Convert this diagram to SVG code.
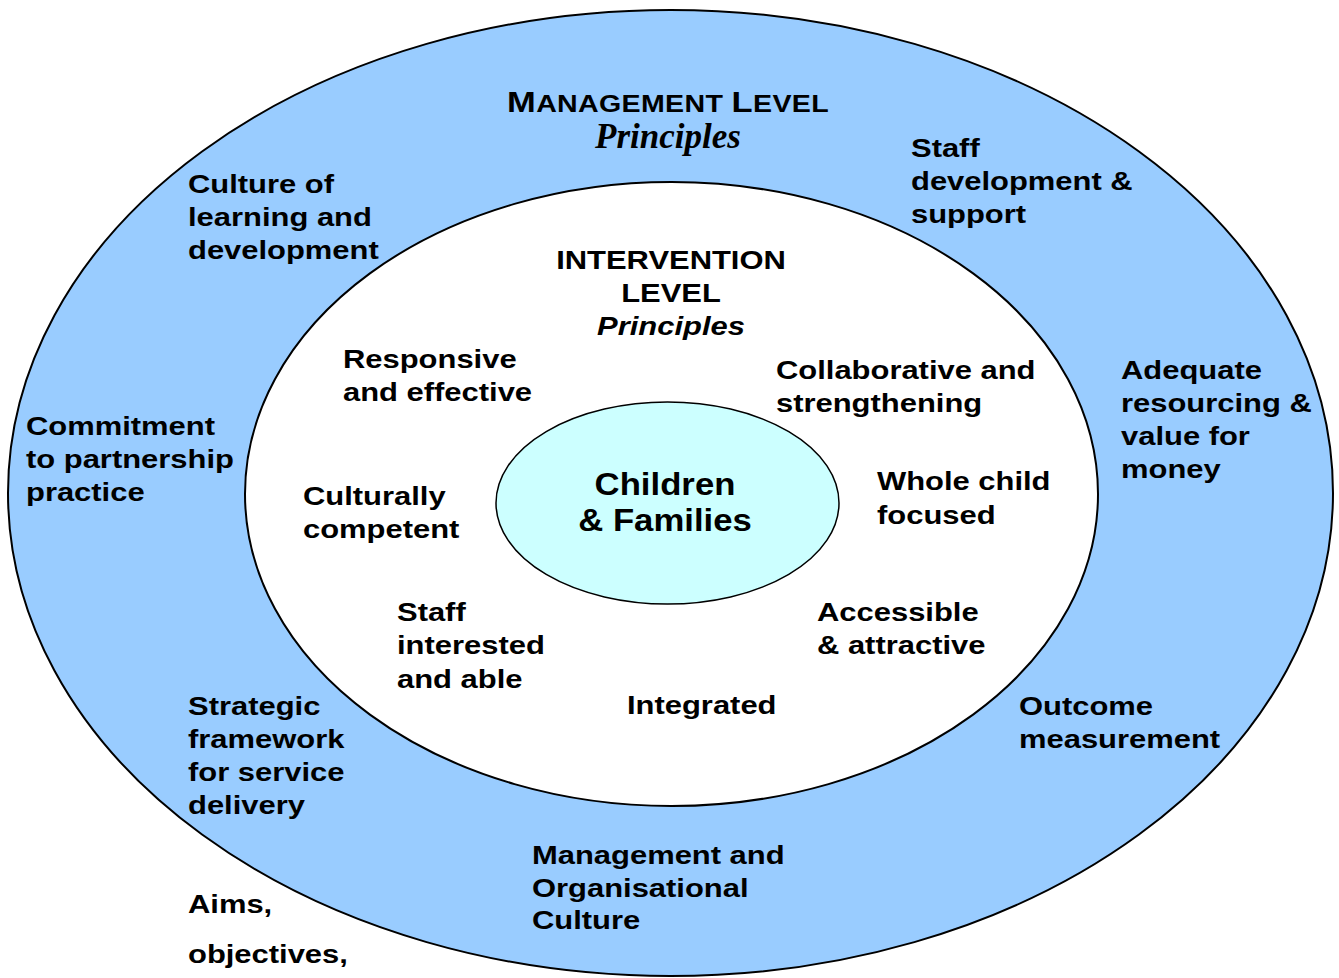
<svg xmlns="http://www.w3.org/2000/svg" width="1339" height="978" viewBox="0 0 1339 978">
<style>
.t{font-family:"Liberation Sans",Arial,sans-serif;font-weight:bold;font-size:26px;fill:#000}
.c{text-anchor:middle}
.pr{font-family:"Liberation Serif","Times New Roman",serif;font-weight:bold;font-style:italic;font-size:35px;fill:#000}
</style>
<rect width="1339" height="978" fill="#fff"/>
<g id="management-ring">
<ellipse cx="670.5" cy="493" rx="662.5" ry="483" fill="#99CCFF" stroke="#000" stroke-width="2"/>
</g>
<g id="intervention-ring">
<ellipse cx="671.5" cy="494" rx="426.5" ry="312" fill="#fff" stroke="#000" stroke-width="2"/>
</g>
<g id="centre">
<ellipse cx="667.5" cy="503" rx="171.5" ry="101" fill="#CCFFFF" stroke="#000" stroke-width="1.5"/>
<g transform="translate(665,-1) scale(1.12,1)">
<text class="t c" style="font-size:31px" x="0" y="496">Children</text>
<text class="t c" style="font-size:31px" x="0" y="532">&amp; Families</text>
</g>
</g>
<g id="management-title">
<g transform="translate(668,-1) scale(1.19,1)">
<text class="t c" x="0" y="113" style="letter-spacing:0.3px"><tspan font-size="29">M</tspan><tspan font-size="24">ANAGEMENT </tspan><tspan font-size="29">L</tspan><tspan font-size="24">EVEL</tspan></text>
</g>
<text class="pr c" x="668" y="148">Principles</text>
</g>
<g id="intervention-title" transform="translate(671,-1) scale(1.19,1)">
<text class="t c" x="0" y="270">INTERVENTION</text>
<text class="t c" x="0" y="303">LEVEL</text>
<text class="t c" x="0" y="336" font-style="italic">Principles</text>
</g>
<g id="culture-of-learning" transform="translate(188,-1) scale(1.19,1)"><text class="t" x="0" y="194">Culture of<tspan x="0" dy="33">learning and</tspan><tspan x="0" dy="33">development</tspan></text></g>
<g id="staff-development" transform="translate(911,-1) scale(1.19,1)"><text class="t" x="0" y="158">Staff<tspan x="0" dy="33">development &amp;</tspan><tspan x="0" dy="33">support</tspan></text></g>
<g id="commitment" transform="translate(26,-1) scale(1.19,1)"><text class="t" x="0" y="436">Commitment<tspan x="0" dy="33">to partnership</tspan><tspan x="0" dy="33">practice</tspan></text></g>
<g id="adequate-resourcing" transform="translate(1121,-1) scale(1.19,1)"><text class="t" x="0" y="380">Adequate<tspan x="0" dy="33">resourcing &amp;</tspan><tspan x="0" dy="33">value for</tspan><tspan x="0" dy="33">money</tspan></text></g>
<g id="strategic-framework" transform="translate(188,-1) scale(1.19,1)"><text class="t" x="0" y="716">Strategic<tspan x="0" dy="33">framework</tspan><tspan x="0" dy="33">for service</tspan><tspan x="0" dy="33">delivery</tspan></text></g>
<g id="outcome-measurement" transform="translate(1019,-1) scale(1.19,1)"><text class="t" x="0" y="716">Outcome<tspan x="0" dy="33">measurement</tspan></text></g>
<g id="management-culture" transform="translate(532,-1) scale(1.19,1)"><text class="t" x="0" y="865">Management and<tspan x="0" dy="33">Organisational</tspan><tspan x="0" dy="32">Culture</tspan></text></g>
<g id="aims" transform="translate(188,-1) scale(1.19,1)"><text class="t" x="0" y="914">Aims,<tspan x="0" dy="50">objectives,</tspan></text></g>
<g id="responsive" transform="translate(343,-1) scale(1.19,1)"><text class="t" x="0" y="369">Responsive<tspan x="0" dy="33">and effective</tspan></text></g>
<g id="collaborative" transform="translate(776,-1) scale(1.19,1)"><text class="t" x="0" y="380">Collaborative and<tspan x="0" dy="33">strengthening</tspan></text></g>
<g id="culturally-competent" transform="translate(303,-1) scale(1.19,1)"><text class="t" x="0" y="506">Culturally<tspan x="0" dy="33">competent</tspan></text></g>
<g id="whole-child" transform="translate(877,-1) scale(1.19,1)"><text class="t" x="0" y="491">Whole child<tspan x="0" dy="34">focused</tspan></text></g>
<g id="staff-interested" transform="translate(397,-1) scale(1.19,1)"><text class="t" x="0" y="622">Staff<tspan x="0" dy="33">interested</tspan><tspan x="0" dy="34">and able</tspan></text></g>
<g id="accessible" transform="translate(817,-1) scale(1.19,1)"><text class="t" x="0" y="622">Accessible<tspan x="0" dy="33">&amp; attractive</tspan></text></g>
<g id="integrated" transform="translate(627,-1) scale(1.19,1)"><text class="t" x="0" y="715">Integrated</text></g>
<g id="connectors"></g>
</svg>
